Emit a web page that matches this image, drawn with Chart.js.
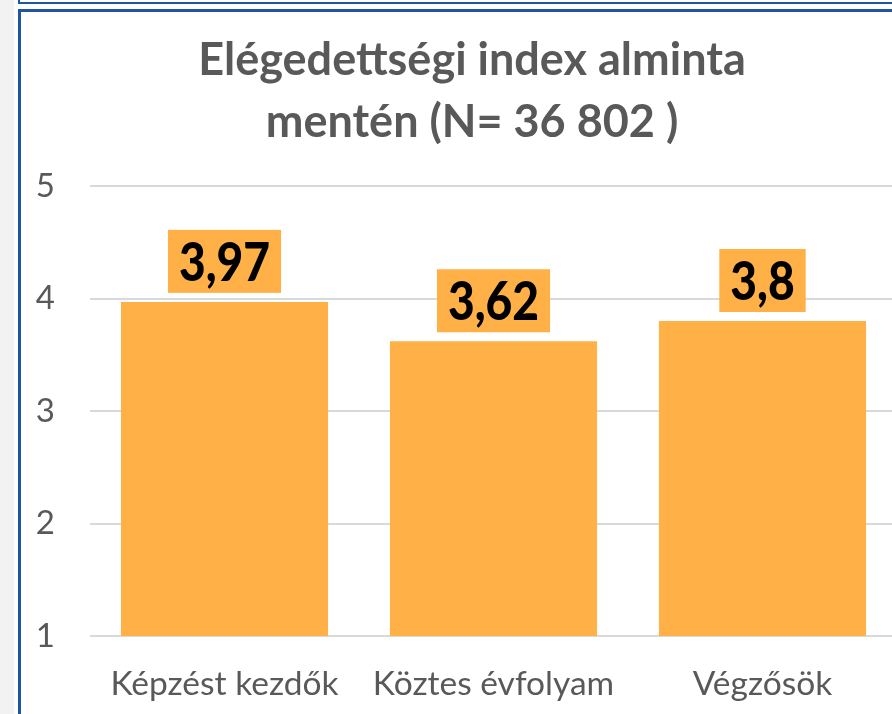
<!DOCTYPE html>
<html>
<head>
<meta charset="utf-8">
<script src="https://cdn.jsdelivr.net/npm/chart.js@4/dist/chart.umd.min.js"></script>
<style>
  body { margin: 0; overflow: hidden; background: #ffffff; width: 892px; height: 714px; position: relative; }
  #strip { position: absolute; left: 0; top: 0; width: 14px; height: 714px; background: #f2f2f2; }
  #prev_frame { position: absolute; left: 18px; top: -20px; width: 1000px; height: 22px; border: 2px solid #1f56a0; border-top: none; }
  #frame { position: absolute; left: 18px; top: 9px; width: 1000px; height: 1000px; border-left: 3px solid #1f56a0; border-top: 3px solid #1f56a0; }
  #wrap { position: absolute; left: 22px; top: 12px; }
</style>
</head>
<body>
<div id="strip"></div>
<div id="prev_frame"></div>
<div id="frame"></div>
<div id="wrap"><canvas id="chart" width="900" height="702"></canvas></div>
<script>
const categories = ['Képzést kezdők', 'Köztes évfolyam', 'Végzősök'];
const values = [3.97, 3.62, 3.8];
const title_lines = ['Elégedettségi index alminta', 'mentén (N= 36 802 )'];
const y_min = 1;
const y_max = 5;

const bar_color = '#ffb148';
const text_gray = '#595959';

// value boxes above the bars (orange box, black bold text)
const valueBoxes = {
    id: 'valueBoxes',
    afterDatasetsDraw(chart) {
        const ctx = chart.ctx;
        const meta = chart.getDatasetMeta(0);
        const squeeze = 0.87;
        ctx.save();
        ctx.font = '900 53px Lato';
        meta.data.forEach((bar, i) => {
            const text = String(values[i]).replace('.', ',');
            const text_w = ctx.measureText(text).width * squeeze;
            const box_w = text_w + 22;
            const box_h = 63;
            const box_top = bar.y - 9 - box_h;
            ctx.fillStyle = bar_color;
            ctx.fillRect(bar.x - box_w / 2, box_top, box_w, box_h);
            ctx.save();
            ctx.translate(bar.x, box_top + 51);
            ctx.scale(squeeze, 1);
            ctx.fillStyle = '#000000';
            ctx.textAlign = 'center';
            ctx.textBaseline = 'alphabetic';
            ctx.fillText(text, 0, 0);
            ctx.restore();
        });
        ctx.restore();
    }
};

new Chart(document.getElementById('chart'), {
    type: 'bar',
    data: {
        labels: categories,
        datasets: [{
            data: values,
            backgroundColor: bar_color,
            borderWidth: 0,
            categoryPercentage: 1,
            barPercentage: 0.77
        }]
    },
    options: {
        responsive: false,
        animation: false,
        devicePixelRatio: 1,
        layout: { padding: { left: 0, right: 0, top: 0, bottom: 0 } },
        plugins: {
            legend: { display: false },
            tooltip: { enabled: false },
            title: {
                display: true,
                text: title_lines,
                color: text_gray,
                font: { family: 'Lato', size: 45, weight: 'bold', lineHeight: 62 / 45 },
                padding: { top: 17, bottom: 33 }
            }
        },
        scales: {
            x: {
                grid: { display: false, drawTicks: false, tickLength: 0 },
                border: { display: false },
                ticks: {
                    color: text_gray,
                    font: { family: 'Lato', size: 33.5 },
                    padding: 28,
                    maxRotation: 0
                },
                afterFit: (scale) => { scale.height = 78; }
            },
            y: {
                min: y_min,
                max: y_max,
                grid: { color: '#d9d9d9', lineWidth: 2, drawTicks: false, tickLength: 0 },
                border: { display: false },
                ticks: {
                    stepSize: 1,
                    color: text_gray,
                    font: { family: 'Lato', size: 33 },
                    padding: 35
                },
                afterFit: (scale) => { scale.width = 68; }
            },
            // empty right-hand spacer so the plot area ends before the title box does
            y_spacer: {
                position: 'right',
                min: y_min,
                max: y_max,
                grid: { display: false, drawTicks: false },
                border: { display: false },
                ticks: { display: false },
                afterFit: (scale) => { scale.width = 25; }
            }
        }
    },
    plugins: [valueBoxes]
});
</script>
</body>
</html>
